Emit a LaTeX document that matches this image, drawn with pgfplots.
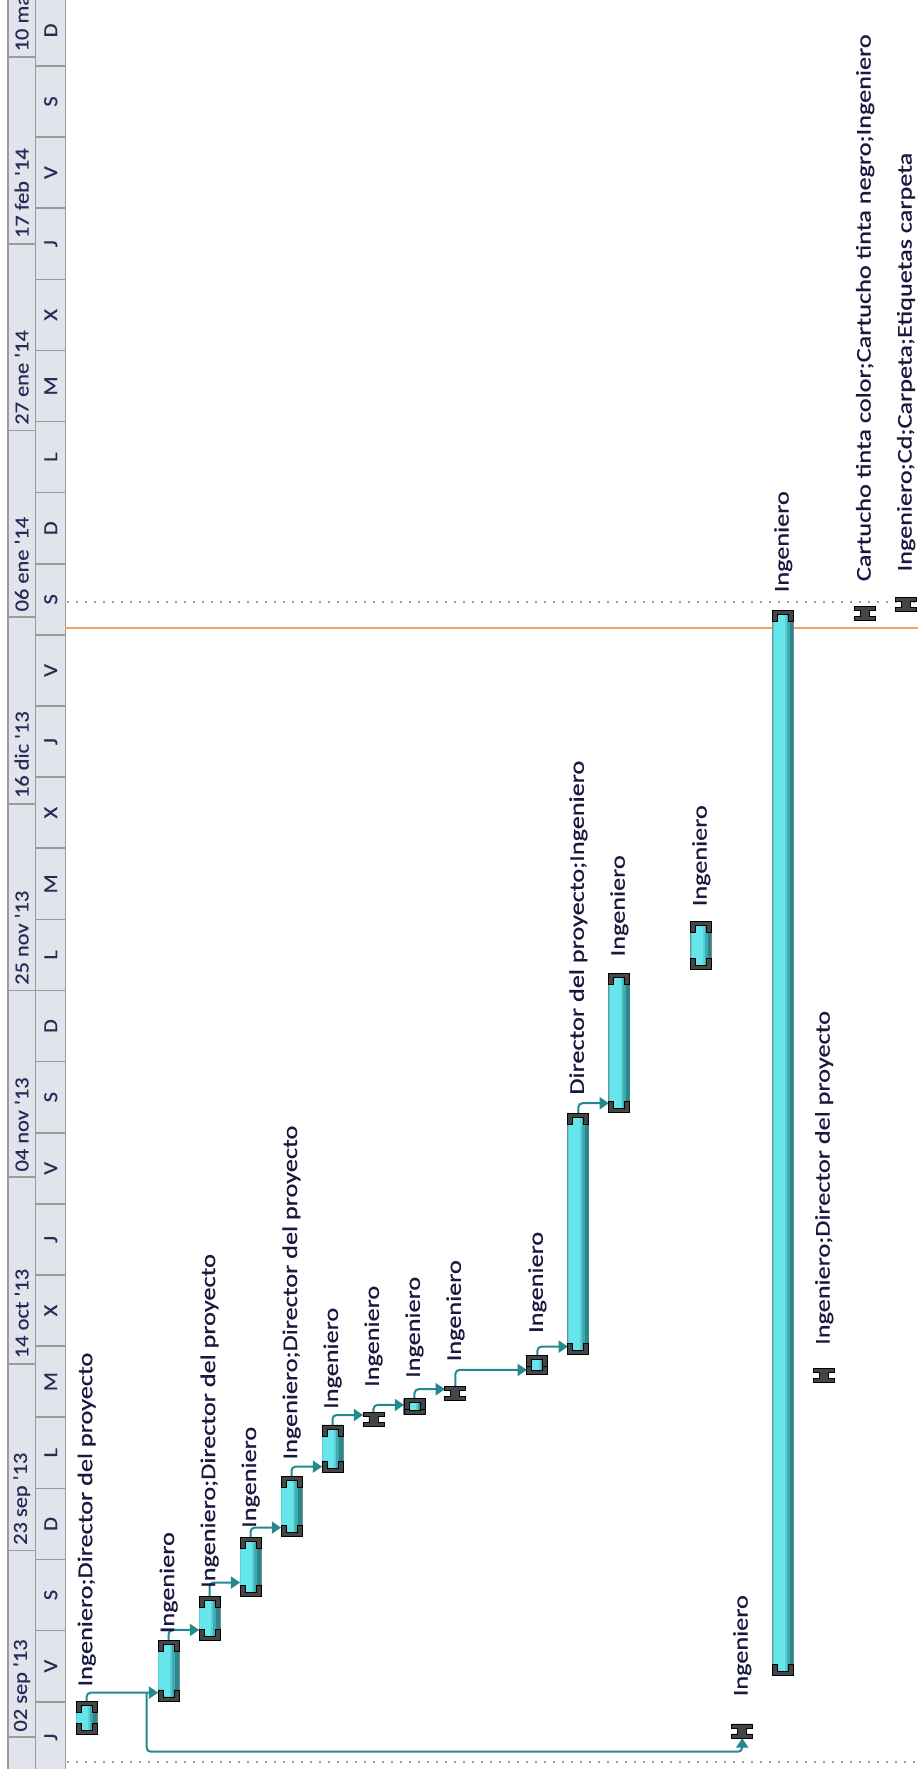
\documentclass[border=0pt]{standalone}
\usepackage{pgfplots}
\usepackage{pgfplotstable}
\usepackage{graphicx}
\pgfplotsset{compat=1.18}
\usepackage{fontspec}
\setmainfont{Carlito}
\newfontfamily\lblfont{Carlito}[FakeBold=0.6]
\newfontfamily\hdfont{Carlito}[FakeBold=0.4]
\usetikzlibrary{arrows.meta}

\definecolor{linkc}{HTML}{23898E}
\definecolor{txt}{HTML}{181840}
\definecolor{hdtxt}{HTML}{2A2A58}
\definecolor{hdr}{HTML}{E1E4EA}
\definecolor{hdrline}{HTML}{9A9AA0}
\definecolor{capc}{HTML}{454545}
\definecolor{orangec}{HTML}{F4A25E}
\definecolor{barout}{HTML}{6D8E90}
\definecolor{barA}{HTML}{2C868B}
\definecolor{barB}{HTML}{3FAAB0}
\definecolor{barC}{HTML}{56CFD5}
\definecolor{barD}{HTML}{66E5EB}
\definecolor{dotc}{HTML}{9C9C9C}

\pgfdeclareplotmark{capS}{%
  \pgfpathmoveto{\pgfpoint{-5.25pt}{0pt}}%
  \pgfpathlineto{\pgfpoint{5.25pt}{0pt}}%
  \pgfpathlineto{\pgfpoint{5.25pt}{5.5pt}}%
  \pgfpathlineto{\pgfpoint{2.75pt}{5.5pt}}%
  \pgfpathlineto{\pgfpoint{2.75pt}{2pt}}%
  \pgfpathlineto{\pgfpoint{-2.75pt}{2pt}}%
  \pgfpathlineto{\pgfpoint{-2.75pt}{5.5pt}}%
  \pgfpathlineto{\pgfpoint{-5.25pt}{5.5pt}}%
  \pgfpathclose\pgfusepathqfillstroke}
\pgfdeclareplotmark{capE}{%
  \pgfpathmoveto{\pgfpoint{-5.25pt}{0pt}}%
  \pgfpathlineto{\pgfpoint{5.25pt}{0pt}}%
  \pgfpathlineto{\pgfpoint{5.25pt}{-5.5pt}}%
  \pgfpathlineto{\pgfpoint{2.75pt}{-5.5pt}}%
  \pgfpathlineto{\pgfpoint{2.75pt}{-2pt}}%
  \pgfpathlineto{\pgfpoint{-2.75pt}{-2pt}}%
  \pgfpathlineto{\pgfpoint{-2.75pt}{-5.5pt}}%
  \pgfpathlineto{\pgfpoint{-5.25pt}{-5.5pt}}%
  \pgfpathclose\pgfusepathqfillstroke}
\pgfdeclareplotmark{capI}{%
  \pgfpathmoveto{\pgfpoint{-5.25pt}{-3.5pt}}%
  \pgfpathlineto{\pgfpoint{5.25pt}{-3.5pt}}%
  \pgfpathlineto{\pgfpoint{5.25pt}{-1.5pt}}%
  \pgfpathlineto{\pgfpoint{2.25pt}{-1.5pt}}%
  \pgfpathlineto{\pgfpoint{2.25pt}{1.5pt}}%
  \pgfpathlineto{\pgfpoint{5.25pt}{1.5pt}}%
  \pgfpathlineto{\pgfpoint{5.25pt}{3.5pt}}%
  \pgfpathlineto{\pgfpoint{-5.25pt}{3.5pt}}%
  \pgfpathlineto{\pgfpoint{-5.25pt}{1.5pt}}%
  \pgfpathlineto{\pgfpoint{-2.25pt}{1.5pt}}%
  \pgfpathlineto{\pgfpoint{-2.25pt}{-1.5pt}}%
  \pgfpathlineto{\pgfpoint{-5.25pt}{-1.5pt}}%
  \pgfpathclose\pgfusepathqfillstroke}

% task bars: row, start day, end day (day 0 = 02 sep '13)
\pgfplotstableread{
row start end
1 0.34 4.00
3 4.08 10.87
4 10.94 15.82
5 15.82 22.45
6 22.56 29.31
7 29.80 35.13
9 36.30 38.10
12 40.80 42.90
13 43.05 70.20
14 70.30 85.90
16 86.40 91.80
18 6.90 126.80
}\bars

% very short tasks: row, middle day
\pgfplotstableread{
row mid
8 35.73
10 38.65
17 0.71
19 40.66
20 126.37
21 127.38
}\mils

\tikzset{
  tl/.style={rotate=90, anchor=west, inner sep=0pt, text=txt, font=\lblfont\fontsize{10.5}{12}\selectfont},
  hd/.style={rotate=90, anchor=west, inner sep=0pt, text=hdtxt, font=\hdfont\fontsize{10}{11}\selectfont},
  hm/.style={rotate=90, anchor=center, inner sep=0pt, text=hdtxt, font=\hdfont\fontsize{10}{11}\selectfont},
  lnk/.style={draw=linkc, line width=1pt, rounded corners=2pt, mark=none, -{Triangle[length=4.6pt,width=6pt]}},
}
\newcommand\TL[1]{\scalebox{1.25}[1]{#1}}
\newcommand\HD[1]{\scalebox{1.12}[1]{#1}}

\begin{document}
\begin{tikzpicture}
\begin{axis}[
  width=459pt, height=884.5pt, scale only axis,
  xmin=-1.116, xmax=21.29, ymin=-3.57, ymax=195.42,
  axis lines=none, clip=true,
]
% header
\fill[hdr] (axis cs:-0.921,-3.57) rectangle (axis cs:0.4826,195.42);
\draw[hdrline, line width=0.6pt] (axis cs:-0.921,-3.57) -- (axis cs:-0.921,195.42);
\draw[hdrline, line width=0.8pt] (axis cs:-0.25,-3.57) -- (axis cs:-0.25,195.42);
\draw[hdrline, line width=0.8pt] (axis cs:0.4826,-3.57) -- (axis cs:0.4826,195.42);
\pgfplotsinvokeforeach{0,21,42,63,84,105,126,147,168,189}{
  \draw[hdrline, line width=0.8pt] (axis cs:-0.921,#1) -- (axis cs:-0.25,#1);
}
\pgfplotsinvokeforeach{-4,4,12,20,28,36,44,52,60,68,76,84,92,100,108,116,124,132,140,148,156,164,172,180,188,196}{
  \draw[hdrline, line width=0.8pt] (axis cs:-0.25,#1) -- (axis cs:0.4826,#1);
}
\node[hd] at (axis cs:-0.585,0.6) {\HD{02 sep \textquotesingle13}};
\node[hd] at (axis cs:-0.585,21.6) {\HD{23 sep \textquotesingle13}};
\node[hd] at (axis cs:-0.585,42.6) {\HD{14 oct \textquotesingle13}};
\node[hd] at (axis cs:-0.585,63.6) {\HD{04 nov \textquotesingle13}};
\node[hd] at (axis cs:-0.585,84.6) {\HD{25 nov \textquotesingle13}};
\node[hd] at (axis cs:-0.585,105.6) {\HD{16 dic \textquotesingle13}};
\node[hd] at (axis cs:-0.585,126.6) {\HD{06 ene \textquotesingle14}};
\node[hd] at (axis cs:-0.585,147.6) {\HD{27 ene \textquotesingle14}};
\node[hd] at (axis cs:-0.585,168.6) {\HD{17 feb \textquotesingle14}};
\node[hd] at (axis cs:-0.585,189.6) {\HD{10 mar \textquotesingle14}};
\node[hm] at (axis cs:0.1225,0) {\HD{J}};
\node[hm] at (axis cs:0.1225,8) {\HD{V}};
\node[hm] at (axis cs:0.1225,16) {\HD{S}};
\node[hm] at (axis cs:0.1225,24) {\HD{D}};
\node[hm] at (axis cs:0.1225,32) {\HD{L}};
\node[hm] at (axis cs:0.1225,40) {\HD{M}};
\node[hm] at (axis cs:0.1225,48) {\HD{X}};
\node[hm] at (axis cs:0.1225,56) {\HD{J}};
\node[hm] at (axis cs:0.1225,64) {\HD{V}};
\node[hm] at (axis cs:0.1225,72) {\HD{S}};
\node[hm] at (axis cs:0.1225,80) {\HD{D}};
\node[hm] at (axis cs:0.1225,88) {\HD{L}};
\node[hm] at (axis cs:0.1225,96) {\HD{M}};
\node[hm] at (axis cs:0.1225,104) {\HD{X}};
\node[hm] at (axis cs:0.1225,112) {\HD{J}};
\node[hm] at (axis cs:0.1225,120) {\HD{V}};
\node[hm] at (axis cs:0.1225,128) {\HD{S}};
\node[hm] at (axis cs:0.1225,136) {\HD{D}};
\node[hm] at (axis cs:0.1225,144) {\HD{L}};
\node[hm] at (axis cs:0.1225,152) {\HD{M}};
\node[hm] at (axis cs:0.1225,160) {\HD{X}};
\node[hm] at (axis cs:0.1225,168) {\HD{J}};
\node[hm] at (axis cs:0.1225,176) {\HD{V}};
\node[hm] at (axis cs:0.1225,184) {\HD{S}};
\node[hm] at (axis cs:0.1225,192) {\HD{D}};

% project start / finish and status lines
\addplot[dotc, line width=1pt, dash pattern=on 1pt off 3.5pt, mark=none] coordinates {(0.52,-2.74) (21.29,-2.74)};
\addplot[dotc, line width=1pt, dash pattern=on 1pt off 3.5pt, mark=none] coordinates {(0.52,127.7) (21.29,127.7)};
\addplot[orangec, line width=0.8pt, mark=none] coordinates {(0.4826,124.8) (21.29,124.8)};

% links
\addplot[lnk] coordinates {(1,4.00) (1,5.02) (2.744,5.02)};
\addplot[lnk] coordinates {(2.464,5.02) (2.464,-1.62) (17,-1.62) (17,-0.12)};
\addplot[lnk] coordinates {(3,10.87) (3,12.07) (3.744,12.07)};
\addplot[lnk] coordinates {(4,15.82) (4,17.4) (4.744,17.4)};
\addplot[lnk] coordinates {(5,22.45) (5,23.58) (5.744,23.58)};
\addplot[lnk] coordinates {(6,29.31) (6,30.44) (6.744,30.44)};
\addplot[lnk] coordinates {(7,35.13) (7,36.25) (7.744,36.25)};
\addplot[lnk] coordinates {(8,36.5) (8,37.38) (8.744,37.38)};
\addplot[lnk] coordinates {(9,38.10) (9,39.15) (9.744,39.15)};
\addplot[lnk] coordinates {(10,39.4) (10,41.32) (11.744,41.32)};
\addplot[lnk] coordinates {(12,42.90) (12,43.94) (12.744,43.94)};
\addplot[lnk] coordinates {(13,70.20) (13,71.32) (13.744,71.32)};

% bars (layered to give the cylinder shading)
\addplot[draw=none, mark=none, error bars/.cd, y dir=plus, y explicit, error mark=none,
  error bar style={draw=barout, line width=11pt}]
  table[x=row, y=start, y error plus expr=\thisrow{end}-\thisrow{start}] {\bars};
\addplot[draw=none, mark=none, error bars/.cd, y dir=plus, y explicit, error mark=none,
  error bar style={draw=barA, line width=10.2pt}]
  table[x=row, y=start, y error plus expr=\thisrow{end}-\thisrow{start}] {\bars};
\addplot[draw=none, mark=none, error bars/.cd, y dir=plus, y explicit, error mark=none,
  error bar style={draw=barB, line width=8.4pt}]
  table[x expr=\thisrow{row}-0.0439, y=start, y error plus expr=\thisrow{end}-\thisrow{start}] {\bars};
\addplot[draw=none, mark=none, error bars/.cd, y dir=plus, y explicit, error mark=none,
  error bar style={draw=barC, line width=7pt}]
  table[x expr=\thisrow{row}-0.078, y=start, y error plus expr=\thisrow{end}-\thisrow{start}] {\bars};
\addplot[draw=none, mark=none, error bars/.cd, y dir=plus, y explicit, error mark=none,
  error bar style={draw=barD, line width=5.6pt}]
  table[x expr=\thisrow{row}-0.0976, y=start, y error plus expr=\thisrow{end}-\thisrow{start}] {\bars};
% bar end caps
\addplot[only marks, mark=capS, mark options={fill=capc, draw=black, line width=0.45pt}] table[x=row, y=start] {\bars};
\addplot[only marks, mark=capE, mark options={fill=capc, draw=black, line width=0.45pt}] table[x=row, y=end] {\bars};
\addplot[only marks, mark=capI, mark options={fill=capc, draw=black, line width=0.45pt}] table[x=row, y=mid] {\mils};

% bar texts
\node[tl] at (axis cs:1,5.66) {\TL{Ingeniero;Director del proyecto}};
\node[tl] at (axis cs:3,11.66) {\TL{Ingeniero}};
\node[tl] at (axis cs:4,16.76) {\TL{Ingeniero;Director del proyecto}};
\node[tl] at (axis cs:5,23.51) {\TL{Ingeniero}};
\node[tl] at (axis cs:6,31.2) {\TL{Ingeniero;Director del proyecto}};
\node[tl] at (axis cs:7,36.9) {\TL{Ingeniero}};
\node[tl] at (axis cs:8,39.37) {\TL{Ingeniero}};
\node[tl] at (axis cs:9,40.38) {\TL{Ingeniero}};
\node[tl] at (axis cs:10,42.25) {\TL{Ingeniero}};
\node[tl] at (axis cs:12,45.44) {\TL{Ingeniero}};
\node[tl] at (axis cs:13,72.25) {\TL{Director del proyecto;Ingeniero}};
\node[tl] at (axis cs:14,87.8) {\TL{Ingeniero}};
\node[tl] at (axis cs:16,93.43) {\TL{Ingeniero}};
\node[tl] at (axis cs:17,4.57) {\TL{Ingeniero}};
\node[tl] at (axis cs:18,128.75) {\TL{Ingeniero}};
\node[tl] at (axis cs:19,44.1) {\TL{Ingeniero;Director del proyecto}};
\node[tl] at (axis cs:20,130.0) {\TL{Cartucho tinta color;Cartucho tinta negro;Ingeniero}};
\node[tl] at (axis cs:21,131.1) {\TL{Ingeniero;Cd;Carpeta;Etiquetas carpeta}};

\coordinate (bl) at (rel axis cs:0,0);
\coordinate (tr) at (rel axis cs:1,1);
\end{axis}
\pgfresetboundingbox
\path[use as bounding box] (bl) rectangle (tr);
\end{tikzpicture}
\end{document}
